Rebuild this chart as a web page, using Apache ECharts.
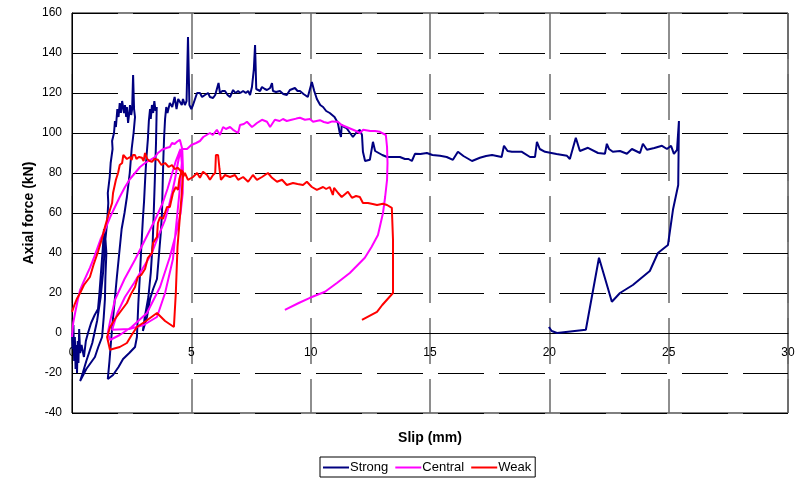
<!DOCTYPE html>
<html>
<head>
<meta charset="utf-8">
<script src="https://cdn.jsdelivr.net/npm/echarts@6/dist/echarts.min.js"></script>
<style>html,body{margin:0;padding:0;background:#fff}#c{width:804px;height:480px}</style>
</head>
<body>
<div id="c"></div>
<script>
// Tick values
const xTicks = [0, 5, 10, 15, 20, 25, 30];
const yTicks = [-40, -20, 0, 20, 40, 60, 80, 100, 120, 140, 160];
const seriesNames = ['Strong', 'Central', 'Weak'];

// Strong specimen: [slip (mm), axial force (kN)]
const strongInitial = [[0,0],[0.03,-8],[0.06,4],[0.09,-14],[0.12,-2],[0.15,-18],[0.18,-6],[0.21,-20],[0.24,-4],[0.27,-15],[0.3,2],[0.34,-10],[0.4,-6],[0.5,-12],[0.58,-4],[0.67,0],[0.8,5],[0.95,9],[1.09,12],[1.15,20],[1.2,28],[1.25,36],[1.3,44],[1.34,52],[1.36,40],[1.3,30],[1.2,18],[1.05,6],[0.85,-5],[0.6,-14],[0.45,-20],[0.34,-24]];
const strongLoop1 = [[0.6,-18],[0.96,-12],[1.1,-7],[1.26,-2],[1.33,8],[1.38,17],[1.4,28],[1.44,40],[1.4,47],[1.47,55],[1.52,65],[1.5,70],[1.58,78],[1.62,85],[1.7,92],[1.68,96],[1.76,100],[1.8,106],[1.84,103],[1.9,112],[1.95,108],[2.0,115],[2.05,110],[2.1,116],[2.14,117],[2.18,110],[2.22,114],[2.27,108],[2.3,113],[2.35,105],[2.4,110],[2.43,114],[2.48,109],[2.52,112],[2.56,129],[2.6,112],[2.64,108],[2.58,100],[2.5,92],[2.42,80],[2.3,68],[2.2,60],[2.08,52],[1.98,40],[1.88,28],[1.78,15],[1.7,5],[1.63,-5],[1.57,-14],[1.5,-23]];
const strongLoop2 = [[1.72,-21],[1.95,-17],[2.14,-13],[2.4,-10],[2.64,-7],[2.72,-2],[2.78,15],[2.85,30],[2.9,42],[2.97,57],[3.02,66],[3.07,78],[3.12,88],[3.18,97],[3.22,106],[3.27,112],[3.3,107],[3.35,114],[3.4,110],[3.45,116],[3.5,111],[3.55,113],[3.52,95],[3.48,80],[3.43,62],[3.38,45],[3.3,30],[3.2,18],[3.05,8],[2.97,1],[3.14,8],[3.27,17],[3.4,22],[3.56,27],[3.65,40],[3.72,50],[3.77,60],[3.8,75],[3.83,88],[3.86,98],[3.9,107],[3.95,113]];
const strongPlateau = [[4.0,110],[4.1,115],[4.2,113],[4.3,118],[4.38,112],[4.45,117],[4.52,118],[4.6,114],[4.65,117],[4.73,114],[4.8,116],[4.86,148],[4.92,114],[5.0,112],[5.07,114],[5.15,113],[5.24,120],[5.36,120],[5.45,118],[5.57,119],[5.7,120],[5.78,118],[5.91,117.5],[6.0,119],[6.07,120],[6.14,125],[6.2,120],[6.3,121],[6.41,121],[6.52,119],[6.62,118],[6.75,121.5],[6.85,120],[6.96,121],[7.05,120],[7.17,121],[7.28,120],[7.38,121],[7.46,119],[7.5,118],[7.54,123],[7.62,132],[7.67,144],[7.72,122],[7.8,122],[7.88,121],[7.96,123],[8.08,122],[8.17,121.5],[8.3,122.5],[8.38,125],[8.42,121],[8.55,120.5],[8.71,121],[8.85,119.5],[9.0,119],[9.13,121.5],[9.2,121.5],[9.34,122.5],[9.45,121],[9.55,121],[9.7,119.5],[9.88,118],[10.05,125.5],[10.15,121],[10.26,117],[10.4,114],[10.52,113],[10.65,111],[10.8,110],[11.0,108],[11.14,105],[11.22,100],[11.27,98],[11.3,104],[11.4,103],[11.5,102.5],[11.65,100],[11.77,98],[11.9,100],[12.06,101.6],[12.15,99],[12.19,90.6],[12.28,86],[12.36,85],[12.48,86.6],[12.61,95.6],[12.7,91],[12.78,90]];
const strongTail = [[13.0,89],[13.2,88],[13.5,88],[13.74,88],[13.95,87],[14.1,87],[14.24,86],[14.37,89.6],[14.6,89.5],[14.87,90],[15.1,89],[15.42,88.6],[15.7,88],[15.96,86.6],[16.17,90.6],[16.4,88.5],[16.76,86],[17.09,87.6],[17.35,88.5],[17.6,89],[18.0,88],[18.1,93.6],[18.25,91],[18.43,90.6],[18.85,90.6],[19.19,88],[19.4,88],[19.48,95.6],[19.6,92],[19.82,90.6],[20.3,89.5],[20.74,88.6],[20.86,87],[21.11,97.6],[21.28,91],[21.62,92.6],[22.04,90],[22.33,89.6],[22.41,94.6],[22.5,92],[22.66,90.6],[22.96,91],[23.25,89.6],[23.46,92],[23.8,90],[23.92,94.6],[24.09,91.6],[24.4,92.5],[24.72,93.6],[24.93,92],[25.1,93.6],[25.22,89.6],[25.35,91.6],[25.43,106],[25.4,74],[25.18,61.6],[24.97,44],[24.55,40],[24.21,31],[23.5,24],[22.96,20],[22.62,15.6],[22.08,37.6],[21.53,1.6],[20.32,0],[20.1,1],[19.98,3]];

// Central specimen
const centralLoad = [[0,-2],[0.05,5],[0.13,10],[0.25,17],[0.34,21.6],[0.5,26],[0.75,32.6],[0.9,37],[1.05,42],[1.2,47],[1.38,51.6],[1.6,58],[1.8,63],[2.0,68],[2.22,73],[2.43,77],[2.64,80],[2.85,83],[3.06,85],[3.27,86.5],[3.48,88],[3.6,90],[3.77,91.6],[3.98,92.6],[4.1,93],[4.19,95],[4.3,94.5],[4.4,95.6],[4.52,96.6],[4.58,96],[4.62,92],[4.65,81.6],[4.64,70]];
const centralCycles = [[4.55,60],[4.4,51.6],[4.1,38],[3.69,23],[3.14,10],[2.5,3],[2.0,-1],[1.59,-3.5],[1.5,0],[1.6,6],[1.8,16.6],[2.2,27],[2.64,36.6],[3.06,46.6],[3.48,56.6],[3.8,65],[4.0,72],[4.2,80],[4.35,86],[4.48,90],[4.55,92],[4.6,85],[4.5,70],[4.35,52],[4.23,37],[3.9,20],[3.56,8],[3.0,4],[2.4,2],[1.68,1.6],[1.9,10],[2.22,18],[2.6,25],[2.93,31.6],[3.35,40],[3.6,48],[3.9,56.6],[4.05,63],[4.19,70],[4.31,76.6],[4.42,84],[4.52,90],[4.65,92]];
const centralPlateau = [[4.82,92],[5.0,94],[5.2,95],[5.36,96],[5.5,98],[5.57,97],[5.78,100],[5.9,99],[6.07,101.6],[6.2,99],[6.33,103],[6.45,102],[6.62,103],[6.75,101.6],[6.96,100],[7.04,104],[7.2,104.5],[7.33,105.6],[7.54,103],[7.65,104],[7.75,105],[7.96,106.6],[8.17,105.6],[8.3,103],[8.5,106.6],[8.7,106],[8.84,107],[9.0,106],[9.2,106.6],[9.4,107.2],[9.55,107.6],[9.76,106.6],[9.97,107],[10.1,105.6],[10.18,105],[10.39,106.4],[10.55,105.5],[10.72,105],[10.9,105.8],[11.14,105.6],[11.3,104],[11.5,103],[11.7,102],[11.9,101],[12.06,100],[12.2,101.6],[12.5,101],[12.7,101],[12.9,100.6],[13.15,99]];
const centralUnload = [[13.2,93],[13.22,85],[13.2,76.6],[13.12,68],[13.03,60],[12.82,49],[12.55,43],[12.27,37.6],[11.64,30],[11.1,25],[10.6,20.6],[9.97,17.6],[9.5,15],[8.92,11.6]];

// Weak specimen
const weakLoad = [[0,10.6],[0.1,14],[0.2,17],[0.34,20],[0.5,24],[0.75,28],[0.9,34],[1.09,40.6],[1.25,47],[1.38,53],[1.5,58],[1.59,61.6],[1.68,65],[1.72,70],[1.84,76.6],[1.93,80],[2.0,84],[2.1,85],[2.15,89],[2.22,89],[2.3,87],[2.43,88],[2.5,86.5],[2.55,89],[2.64,89],[2.7,87],[2.8,88],[2.93,87.6],[3.0,86],[3.06,90],[3.15,87],[3.25,86],[3.35,85.6],[3.45,87],[3.6,86.6],[3.75,84],[3.9,85],[4.05,83],[4.19,84],[4.3,82],[4.44,82.6],[4.55,81],[4.65,80.6]];
const weakCycle = [[4.6,70],[4.52,58],[4.42,43],[4.35,20],[4.27,3],[3.9,6],[3.56,10],[3.1,6],[2.72,3],[2.5,-1],[2.3,-5],[2.0,-7],[1.59,-8.4],[1.47,-2],[1.6,3],[1.8,7],[2.05,11],[2.3,15],[2.45,19],[2.64,23],[2.76,28],[2.9,29],[3.06,32],[3.18,37.6],[3.35,40],[3.4,45],[3.48,46.6],[3.56,48],[3.6,55],[3.69,58],[3.81,57],[3.98,63],[4.1,63],[4.23,70],[4.35,73],[4.44,71.6],[4.5,77],[4.6,81.6]];
const weakPlateau = [[4.65,78],[4.73,80],[4.86,76.6],[5.07,78],[5.24,80],[5.36,77.6],[5.49,80.6],[5.66,79],[5.78,76.6],[5.91,79],[6.0,80],[6.03,89],[6.12,89],[6.18,82],[6.24,76.6],[6.41,79],[6.62,78],[6.83,79],[6.96,76.6],[7.17,78],[7.38,75.6],[7.58,79],[7.75,76.6],[7.96,78],[8.21,80],[8.38,77.6],[8.59,75.6],[8.8,76.6],[9.0,74],[9.26,75],[9.45,74.5],[9.68,74],[9.84,75.6],[10.05,73],[10.26,71.6],[10.52,73],[10.65,72],[10.8,73],[10.93,69],[10.98,72.6],[11.15,70],[11.3,68],[11.56,70.6],[11.73,67.6],[11.9,68.5],[12.06,68],[12.19,65],[12.4,65],[12.6,64.5],[12.78,64],[13.03,64.6],[13.2,64],[13.4,62.6]];
const weakUnload = [[13.45,46.6],[13.45,20],[13.0,14],[12.78,10.6],[12.15,6.6]];

const strongData = [].concat(strongInitial, strongLoop1, strongLoop2, strongPlateau, strongTail);
const centralData = [].concat(centralLoad, centralCycles, centralPlateau, centralUnload);
const weakData = [].concat(weakLoad, weakCycle, weakPlateau, weakUnload);

const chart = echarts.init(document.getElementById('c'), null, {renderer: 'canvas'});
const font = 'Arial, "Liberation Sans", sans-serif';
const mk = (name, data, color) => ({
  name, type: 'line', data, symbol: 'none', showSymbol: false,
  lineStyle: {color, width: 2}, itemStyle: {color}, animation: false, z: 3
});
chart.setOption({
  animation: false,
  backgroundColor: '#fff',
  grid: {left: 72, right: 16, top: 13, bottom: 67, show: true, borderColor: '#000', borderWidth: 1,
         backgroundColor: 'transparent', containLabel: false, outerBoundsMode: 'none'},
  xAxis: {
    type: 'value', min: xTicks[0], max: xTicks[xTicks.length - 1], interval: 5,
    name: 'Slip (mm)', nameLocation: 'middle', nameGap: 18,
    nameTextStyle: {fontFamily: font, fontSize: 14, fontWeight: 'bold', color: '#000'},
    axisLine: {onZero: true, lineStyle: {color: '#000', width: 1}},
    axisTick: {show: false},
    axisLabel: {fontFamily: font, fontSize: 12, color: '#000', margin: -66},
    splitLine: {show: true, lineStyle: {color: '#6a6a6a', width: 1.5, type: [46, 15]}}
  },
  yAxis: {
    type: 'value', min: yTicks[0], max: yTicks[yTicks.length - 1], interval: 20,
    name: 'Axial force (kN)', nameLocation: 'middle', nameGap: 36, nameRotate: 90, nameMoveOverlap: false,
    nameTextStyle: {fontFamily: font, fontSize: 14, fontWeight: 'bold', color: '#000'},
    axisLine: {show: true, onZero: false, lineStyle: {color: '#000', width: 1}},
    axisTick: {show: false},
    axisLabel: {fontFamily: font, fontSize: 12, color: '#000', margin: 10},
    splitLine: {show: true, lineStyle: {color: '#000', width: 1, type: [46, 15]}}
  },
  legend: {
    data: seriesNames.map(n => ({name: n, icon: 'rect'})), left: 320, top: 457, orient: 'horizontal',
    borderColor: '#000', borderWidth: 1, padding: [4, 4, 3, 3], itemGap: 7,
    itemWidth: 26, itemHeight: 2,
    textStyle: {fontFamily: font, fontSize: 13, color: '#000', padding: [0, 0, 0, -4]}
  },
  series: [
    mk(seriesNames[0], strongData, '#000080'),
    mk(seriesNames[1], centralData, '#FF00FF'),
    mk(seriesNames[2], weakData, '#FF0000')
  ]
});
</script>
</body>
</html>
